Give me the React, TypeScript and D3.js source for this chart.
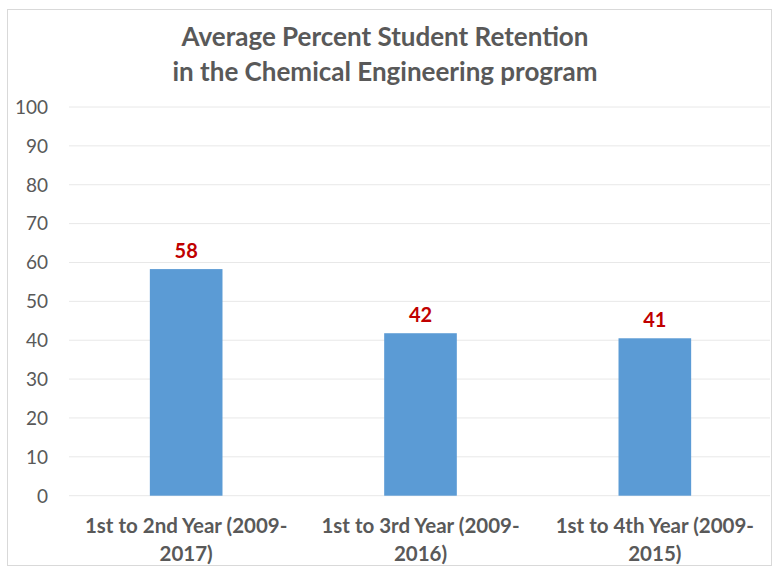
import React from "react";
import * as d3 from "d3";

const categories: string[][] = [
  ["1st to 2nd Year (2009-", "2017)"],
  ["1st to 3rd Year (2009-", "2016)"],
  ["1st to 4th Year (2009-", "2015)"],
];
const values: number[] = [58.3, 41.8, 40.5];
const labels: string[] = ["58", "42", "41"];
const yTicks: number[] = [0, 10, 20, 30, 40, 50, 60, 70, 80, 90, 100];
const titleLines: string[] = [
  "Average Percent Student Retention",
  "in the Chemical Engineering program",
];

const W = 774;
const H = 569;
const margin = { left: 69, right: 2, top: 107, bottom: 73 };

export default function App() {
  const x = d3
    .scaleBand<number>()
    .domain(d3.range(values.length))
    .range([margin.left, W - margin.right])
    .paddingInner(0.69)
    .paddingOuter(0.345);
  const y = d3.scaleLinear().domain([0, 100]).range([H - margin.bottom - 0.3, margin.top]);
  const font = "Lato, 'Open Sans', sans-serif";
  const gray = "#595959";

  return (
    <svg
      width={W}
      height={H}
      style={{ position: "fixed", top: 0, left: 0, background: "#fff" }}
      fontFamily={font}
    >
      <rect x={7.5} y={9.5} width={764} height={556} fill="#fff" stroke="#d9d9d9" />
      {titleLines.map((t, i) => (
        <text
          key={i}
          x={385}
          y={46 + i * 35}
          textAnchor="middle"
          fontSize={26}
          fontWeight="bold"
          fill={gray}
        >
          {t}
        </text>
      ))}
      {yTicks.map((t) => (
        <g key={t}>
          <line x1={margin.left} x2={770} y1={y(t)} y2={y(t)} stroke="#e8e8e8" strokeWidth={1} />
          <text x={48} y={y(t)} dy="0.36em" textAnchor="end" fontSize={19} fill={gray}>
            {t}
          </text>
        </g>
      ))}
      {values.map((v, i) => (
        <g key={i}>
          <rect
            x={x(i)}
            y={y(v)}
            width={x.bandwidth()}
            height={y(0) - y(v)}
            fill="#5B9BD5"
          />
          <text
            x={(x(i) as number) + x.bandwidth() / 2}
            y={y(v) - 11}
            textAnchor="middle"
            fontSize={20}
            fontWeight="bold"
            fill="#C00000"
          >
            {labels[i]}
          </text>
          {categories[i].map((line, j) => (
            <text
              key={j}
              x={(x(i) as number) + x.bandwidth() / 2}
              y={533 + j * 28}
              textAnchor="middle"
              fontSize={20.5}
              fontWeight="bold"
              fill={gray}
            >
              {line}
            </text>
          ))}
        </g>
      ))}
    </svg>
  );
}
